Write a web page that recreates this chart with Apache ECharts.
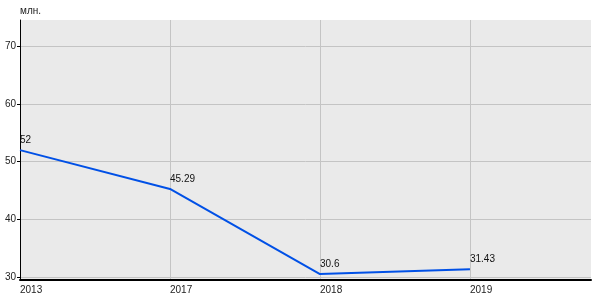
<!DOCTYPE html>
<html><head><meta charset="utf-8">
<script src="https://cdn.jsdelivr.net/npm/echarts@6/dist/echarts.min.js"></script>
<style>html,body{margin:0;padding:0;background:#fff}#c{width:600px;height:300px}</style>
</head><body><div id="c"></div>
<script>
const years = ['2013', '2017', '2018', '2019'];
const values = [52, 45.29, 30.6, 31.43];
const yTicks = [30, 40, 50, 60, 70];
const unitLabel = 'млн.';

const chart = echarts.init(document.getElementById('c'), null, {renderer: 'canvas'});
const font = 'Liberation Sans, Arial, sans-serif';
chart.setOption({
  animation: false,
  grid: {left: 20, top: 20, right: 9, bottom: 20, show: true, backgroundColor: '#eaeaea', borderWidth: 0},
  graphic: [{type: 'text', left: 20, top: 6, style: {text: unitLabel, fontSize: 10, fontFamily: font, fill: '#222'}}],
  xAxis: {
    type: 'value', min: 0, max: 3.807,
    axisLine: {show: true, lineStyle: {color: '#000', width: 2}},
    axisTick: {show: false, customValues: [0, 1, 2, 3]},
    axisLabel: {customValues: [0, 1, 2, 3], formatter: v => years[Math.round(v)], align: 'left', fontSize: 10, fontFamily: font, color: '#222', margin: 5},
    splitLine: {show: true, lineStyle: {color: '#c4c4c4', width: 1}}
  },
  yAxis: {
    type: 'value', min: 29.57, max: 74.48,
    axisLine: {show: true, lineStyle: {color: '#000', width: 1}},
    axisTick: {show: true, customValues: yTicks, length: 3, lineStyle: {color: '#000'}},
    axisLabel: {customValues: yTicks, fontSize: 10, fontFamily: font, color: '#222', margin: 4},
    splitLine: {show: true, lineStyle: {color: '#c4c4c4', width: 1}}
  },
  series: [{
    type: 'line',
    data: values.map((v, i) => [i, v]),
    symbol: 'circle', symbolSize: 0.01, showSymbol: true,
    itemStyle: {color: '#0050e6'},
    lineStyle: {color: '#0050e6', width: 2},
    label: {show: true, position: 'top', align: 'left', distance: 5, fontSize: 10, fontFamily: font, color: '#111', formatter: p => String(values[p.dataIndex])}
  }]
});
</script></body></html>
